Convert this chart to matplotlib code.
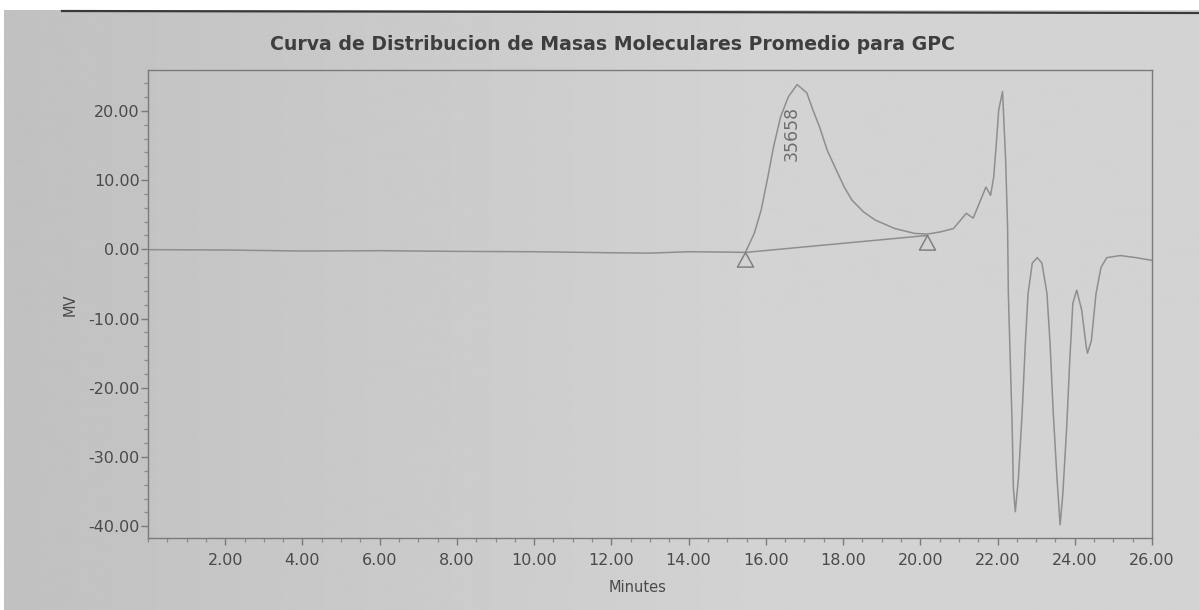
import numpy as np
import matplotlib.pyplot as plt
from matplotlib.ticker import MultipleLocator, FormatStrFormatter
from matplotlib.lines import Line2D
from matplotlib.patches import Rectangle

plt.rcParams['font.family'] = ['DejaVu Sans']

# GPC trace: retention time (min) vs detector signal (mV)
minutes = [0.0, 2.0, 4.0, 6.0, 8.0, 10.0, 12.0, 13.0, 14.0, 15.0, 15.47,
           15.70, 15.88, 16.05, 16.20, 16.38, 16.58, 16.81, 17.06, 17.22,
           17.39, 17.59, 17.82, 18.03, 18.23, 18.53, 18.84, 19.34, 19.85,
           20.18, 20.51, 20.86, 21.19, 21.37, 21.70, 21.82, 21.90, 21.97,
           22.03, 22.13, 22.21, 22.26, 22.28, 22.33, 22.38, 22.41, 22.46,
           22.54, 22.64, 22.72, 22.79, 22.90, 23.03, 23.15, 23.28, 23.36,
           23.44, 23.54, 23.62, 23.69, 23.79, 23.87, 23.95, 24.05, 24.18,
           24.30, 24.33, 24.43, 24.55, 24.68, 24.83, 25.18, 25.58, 26.0]
signal_mv = [-0.05, -0.1, -0.25, -0.2, -0.3, -0.35, -0.5, -0.55, -0.35, -0.4, -0.45,
             2.3, 5.7, 10.4, 14.8, 19.1, 22.0, 23.8, 22.6, 20.1,
             17.7, 14.3, 11.5, 9.0, 7.1, 5.4, 4.2, 3.0, 2.3,
             2.2, 2.5, 3.0, 5.2, 4.5, 9.0, 7.8, 10.4, 15.4,
             20.1, 22.8, 12.9, 3.2, -6.4, -16.1, -25.8, -34.5, -37.9,
             -33.1, -23.3, -13.6, -6.4, -2.0, -1.2, -2.0, -6.4, -13.6,
             -23.3, -33.1, -39.8, -35.4, -25.8, -16.1, -7.8, -5.9, -8.8,
             -14.2, -15.0, -13.2, -6.4, -2.6, -1.2, -0.9, -1.2, -1.6]

# integration baseline between the two peak markers
baseline_min = [15.47, 20.18]
baseline_mv = [-0.45, 2.0]

peak_label = "35658"
peak_label_pos = (16.68, 16.8)

title = "Curva de Distribucion de Masas Moleculares Promedio para GPC"

W, H = 1199, 610
fig = plt.figure(figsize=(W / 100, H / 100), dpi=100)

# paper background, a bit darker towards the left
bg = fig.add_axes([0, 0, 1, 1])
gx = np.linspace(0, 1, 400)
shade = 0.755 + 0.07 * np.clip(gx * 1.6, 0, 1)
bg.imshow(shade[np.newaxis, :], cmap='gray', vmin=0, vmax=1, aspect='auto',
          extent=[0, 1, 0, 1], origin='lower', interpolation='bilinear')
bg.set_xlim(0, 1)
bg.set_ylim(0, 1)
bg.axis('off')
bg.add_patch(Rectangle((0, 1 - 10 / H), 1, 10 / H, color='white', lw=0))
bg.add_patch(Rectangle((0, 0), 4 / W, 1, color='white', lw=0))
fig.add_artist(Line2D([62 / W, 1], [1 - 11 / H, 1 - 13 / H], color='#3a3a3a', lw=1.6))

ax = fig.add_axes([148 / W, 72 / H, 1004 / W, 468 / H])
ax.set_facecolor('none')

curve_color = '#8e8e8e'
ax.plot(minutes, signal_mv, color=curve_color, lw=1.1)
ax.plot(baseline_min, baseline_mv, color=curve_color, lw=1.1)

# hollow triangles hanging below the baseline end points
tri = [(0, 0), (-0.55, -1), (0.55, -1), (0, 0)]
ax.plot(baseline_min, baseline_mv, linestyle='none', marker=tri, markersize=21,
        markerfacecolor='none', markeredgecolor='#808080', markeredgewidth=1.1)

ax.text(*peak_label_pos, peak_label, rotation=90, ha='center', va='center',
        fontsize=12.5, color='#6e6e6e')

ax.set_xlim(0, 26)
ax.set_ylim(-41.7, 25.9)
ax.set_xticks(np.arange(2, 27, 2))
ax.set_yticks(np.arange(-40, 21, 10))
ax.xaxis.set_minor_locator(MultipleLocator(0.5))
ax.yaxis.set_minor_locator(MultipleLocator(2))
ax.xaxis.set_major_formatter(FormatStrFormatter('%.2f'))
ax.yaxis.set_major_formatter(FormatStrFormatter('%.2f'))

for s in ax.spines.values():
    s.set_color('#7a7a7a')
    s.set_linewidth(1.0)
ax.tick_params(which='major', direction='out', length=5, width=1.0,
               color='#7a7a7a', labelcolor='#4a4a4a', labelsize=11.5)
ax.tick_params(which='minor', direction='out', length=3, width=0.9, color='#8a8a8a')
ax.tick_params(axis='y', which='major', pad=1)
ax.tick_params(axis='x', which='major', pad=6)

fig.text(612 / W, 1 - 45 / H, title, ha='center', va='center',
         fontsize=13.6, fontweight='bold', color='#3e3e3e')
fig.text(70 / W, 1 - 305 / H, 'MV', rotation=90, ha='center', va='center',
         fontsize=10.5, color='#4a4a4a')
fig.text(638 / W, 1 - 587 / H, 'Minutes', ha='center', va='center',
         fontsize=10.5, color='#4a4a4a')

fig.savefig('out.png', dpi=100)
